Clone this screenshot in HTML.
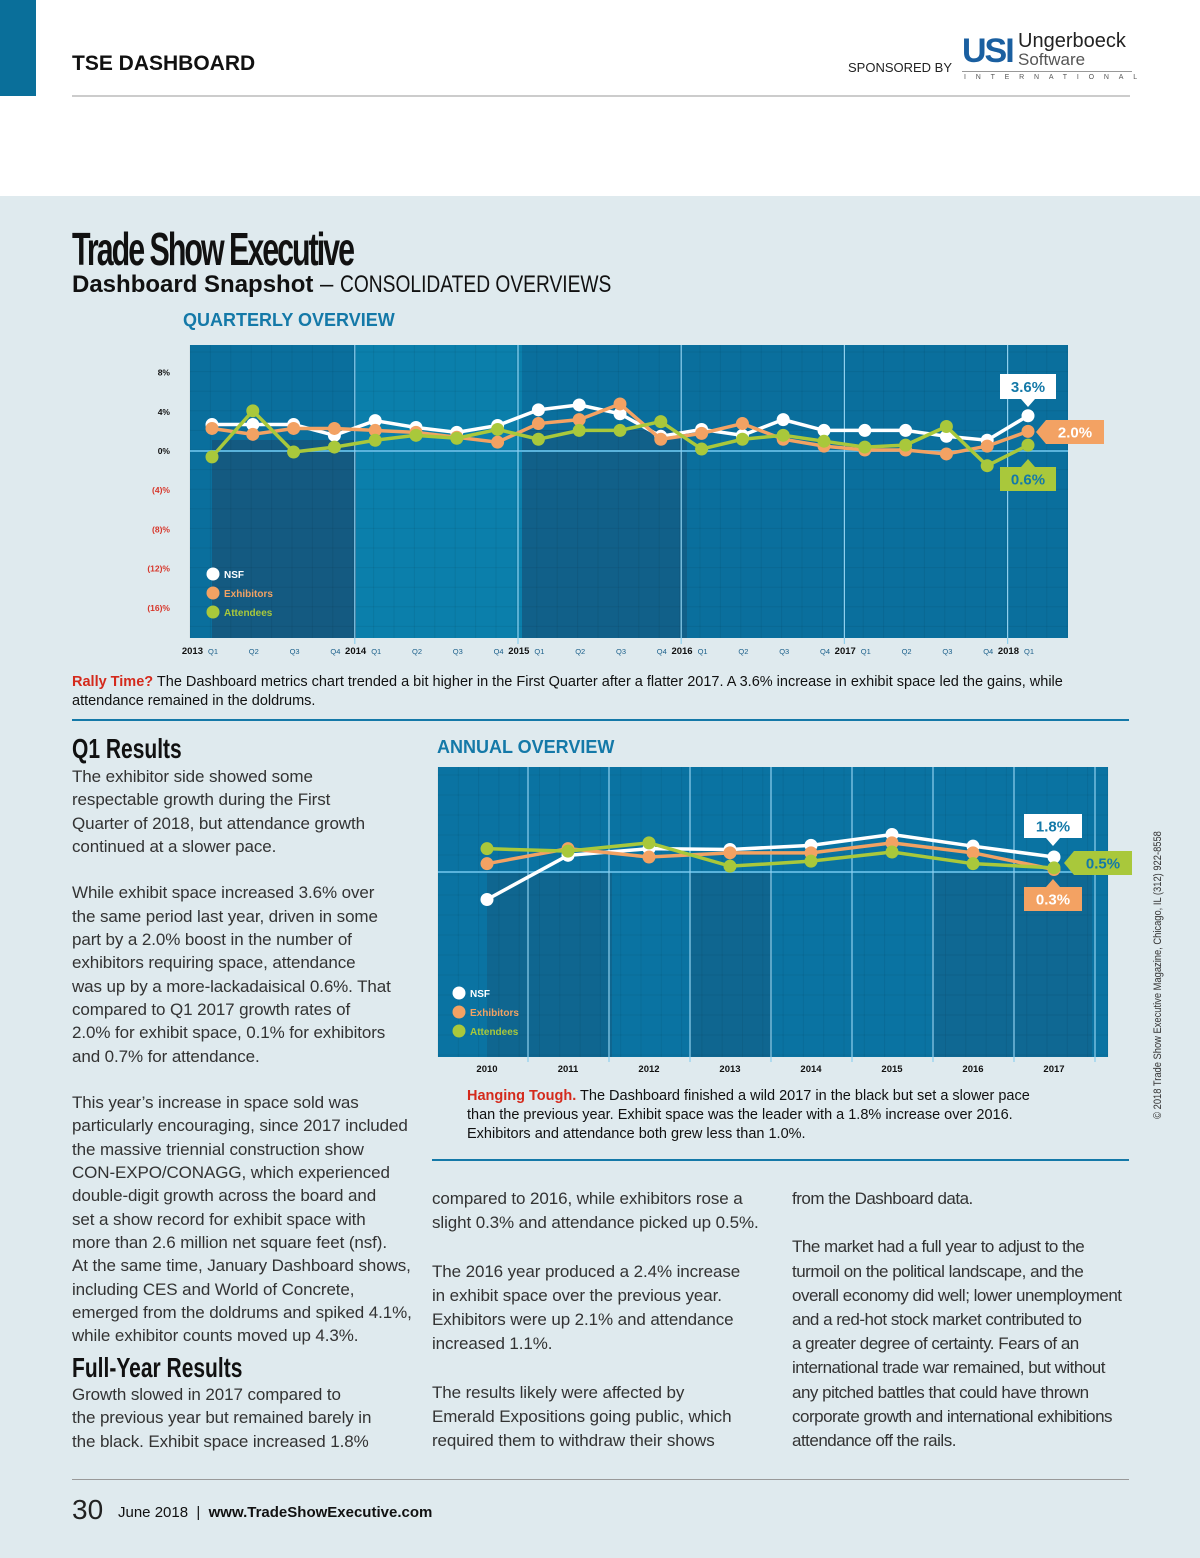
<!DOCTYPE html>
<html><head><meta charset="utf-8">
<style>
body{margin:0;width:1200px;height:1558px;position:relative;background:#fff;font-family:"Liberation Sans",sans-serif;overflow:hidden}
.abs{position:absolute}
.body{font-size:17px;line-height:23.3px;color:#333;font-weight:300;letter-spacing:-0.1px}
.h{font-family:"Liberation Sans Narrow","Liberation Sans",sans-serif;font-weight:bold;color:#111;transform-origin:left top}
</style></head><body>
<div class="abs" style="left:0;top:0;width:36px;height:96px;background:#0a6f9a"></div>
<div class="abs" style="left:72px;top:52px;font-size:21px;font-weight:bold;color:#111">TSE DASHBOARD</div>
<div class="abs" style="left:848px;top:60px;font-size:13px;color:#222">SPONSORED BY</div>
<div class="abs" style="left:962px;top:32px;width:170px;height:52px">
  <div class="abs" style="left:0;top:2px;font-size:34px;font-weight:bold;color:#1a5fa0;letter-spacing:-2px;line-height:34px">USI</div>
  <div class="abs" style="left:56px;top:-1px;font-size:20px;color:#222;line-height:20px">Ungerboeck</div>
  <div class="abs" style="left:56px;top:18px;font-size:17px;color:#555;line-height:20px">Software</div>
  <div class="abs" style="left:0;top:39px;width:170px;border-top:1px solid #999"></div>
  <div class="abs" style="left:2px;top:42px;font-size:7px;color:#555;letter-spacing:9.8px">INTERNATIONAL</div>
</div>
<div class="abs" style="left:72px;top:95px;width:1058px;height:2px;background:#ccc"></div>
<div class="abs" style="left:0;top:196px;width:1200px;height:1362px;background:#dfeaee"></div>

<div class="abs h" style="left:72px;top:222px;font-size:46px;letter-spacing:-3px;transform:scaleX(0.66);white-space:nowrap">Trade Show Executive</div>
<div class="abs" style="left:72px;top:271px;font-size:24px;font-weight:bold;color:#111;white-space:nowrap">Dashboard Snapshot <span style="font-weight:normal">–</span> <span style="display:inline-block;font-weight:normal;transform:scaleX(0.8);transform-origin:left">CONSOLIDATED OVERVIEWS</span></div>
<div class="abs" style="left:183px;top:310px;font-size:18px;font-weight:bold;color:#1479a8">QUARTERLY OVERVIEW</div>

<svg id="charts" class="abs" style="left:0;top:0" width="1200" height="1558"></svg>

<div class="abs" style="left:72px;top:673px;font-size:14.5px;line-height:19px;color:#111;width:1052px"><b style="color:#d42a1c">Rally Time?</b> The Dashboard metrics chart trended a bit higher in the First Quarter after a flatter 2017. A 3.6% increase in exhibit space led the gains, while<br>attendance remained in the doldrums.</div>
<div class="abs" style="left:72px;top:719px;width:1057px;height:2px;background:#1479a8"></div>

<div class="abs h" style="left:72px;top:733px;font-size:28px;transform:scaleX(0.75);white-space:nowrap">Q1 Results</div>
<div class="abs body" style="left:72px;top:765px;white-space:nowrap">The exhibitor side showed some<br>respectable growth during the First<br>Quarter of 2018, but attendance growth<br>continued at a slower pace.<br><br>While exhibit space increased 3.6% over<br>the same period last year, driven in some<br>part by a 2.0% boost in the number of<br>exhibitors requiring space, attendance<br>was up by a more-lackadaisical 0.6%. That<br>compared to Q1 2017 growth rates of<br>2.0% for exhibit space, 0.1% for exhibitors<br>and 0.7% for attendance.<br><br>This year’s increase in space sold was<br>particularly encouraging, since 2017 included<br>the massive triennial construction show<br>CON-EXPO/CONAGG, which experienced<br>double-digit growth across the board and<br>set a show record for exhibit space with<br>more than 2.6 million net square feet (nsf).<br>At the same time, January Dashboard shows,<br>including CES and World of Concrete,<br>emerged from the doldrums and spiked 4.1%,<br>while exhibitor counts moved up 4.3%.</div>
<div class="abs h" style="left:72px;top:1352px;font-size:28px;transform:scaleX(0.75);white-space:nowrap">Full-Year Results</div>
<div class="abs body" style="left:72px;top:1383px;white-space:nowrap">Growth slowed in 2017 compared to<br>the previous year but remained barely in<br>the black. Exhibit space increased 1.8%</div>

<div class="abs" style="left:437px;top:737px;font-size:18px;font-weight:bold;color:#1479a8">ANNUAL OVERVIEW</div>
<div class="abs" style="left:467px;top:1087px;font-size:14.5px;line-height:19px;color:#111;white-space:nowrap"><b style="color:#d42a1c">Hanging Tough.</b> The Dashboard finished a wild 2017 in the black but set a slower pace<br>than the previous year. Exhibit space was the leader with a 1.8% increase over 2016.<br>Exhibitors and attendance both grew less than 1.0%.</div>
<div class="abs" style="left:432px;top:1159px;width:697px;height:2px;background:#1479a8"></div>

<div class="abs body" style="left:432px;top:1187px;line-height:24.2px;white-space:nowrap">compared to 2016, while exhibitors rose a<br>slight 0.3% and attendance picked up 0.5%.<br><br>The 2016 year produced a 2.4% increase<br>in exhibit space over the previous year.<br>Exhibitors were up 2.1% and attendance<br>increased 1.1%.<br><br>The results likely were affected by<br>Emerald Expositions going public, which<br>required them to withdraw their shows</div>
<div class="abs body" style="left:792px;top:1187px;line-height:24.2px;white-space:nowrap;letter-spacing:-0.5px">from the Dashboard data.<br><br>The market had a full year to adjust to the<br>turmoil on the political landscape, and the<br>overall economy did well; lower unemployment<br>and a red-hot stock market contributed to<br>a greater degree of certainty. Fears of an<br>international trade war remained, but without<br>any pitched battles that could have thrown<br>corporate growth and international exhibitions<br>attendance off the rails.</div>

<div class="abs" style="left:1158px;top:975px;font-size:11px;color:#333;white-space:nowrap;transform:translate(-50%,-50%) rotate(-90deg) scaleX(0.85);transform-origin:center">© 2018 Trade Show Executive Magazine, Chicago, IL (312) 922-8558</div>

<div class="abs" style="left:72px;top:1479px;width:1057px;height:1px;background:#999"></div>
<div class="abs" style="left:72px;top:1494px;font-size:28px;color:#222;font-weight:300">30</div>
<div class="abs" style="left:118px;top:1504px;font-size:15px;color:#111">June 2018 &nbsp;| &nbsp;<b>www.TradeShowExecutive.com</b></div>

<script>
const qLabels=["Q1","Q2","Q3","Q4","Q1","Q2","Q3","Q4","Q1","Q2","Q3","Q4","Q1","Q2","Q3","Q4","Q1","Q2","Q3","Q4","Q1"];
const qYears=["2013","2014","2015","2016","2017","2018"];
const qNSF=[2.7,2.7,2.7,1.6,3.1,2.4,1.9,2.6,4.2,4.7,3.8,1.5,2.2,1.6,3.2,2.1,2.1,2.1,1.5,1.1,3.6];
const qExh=[2.3,1.7,2.3,2.3,2.1,1.9,1.4,0.9,2.8,3.2,4.8,1.2,1.8,2.8,1.2,0.5,0.1,0.1,-0.3,0.5,2.0];
const qAtt=[-0.6,4.1,-0.1,0.4,1.1,1.6,1.3,2.2,1.2,2.1,2.1,3.0,0.2,1.2,1.6,1.0,0.4,0.6,2.5,-1.5,0.6];
const qTicks=[8,4,0,-4,-8,-12,-16];
const qTickLabels=["8%","4%","0%","(4)%","(8)%","(12)%","(16)%"];
const aYears=["2010","2011","2012","2013","2014","2015","2016","2017"];
const aNSF=[-3.3,2.0,2.8,2.7,3.2,4.5,3.1,1.8];
const aExh=[1.0,2.8,1.8,2.3,2.3,3.5,2.3,0.3];
const aAtt=[2.8,2.5,3.5,0.7,1.3,2.4,1.0,0.5];

const NS="http://www.w3.org/2000/svg";
const svg=document.getElementById('charts');
function el(tag,attrs,parent){const e=document.createElementNS(NS,tag);for(const k in attrs)e.setAttribute(k,attrs[k]);(parent||svg).appendChild(e);return e;}
const C={nsf:"#ffffff",exh:"#f3a263",att:"#a9c83b"};

// ---------- Quarterly ----------
const qx=i=>212+i*40.8, qy=v=>451-v*9.8;
const qg=el('g',{});


let r=el('rect',{x:190,y:345,width:878,height:293,fill:'#0a6f9d'},qg);


el('rect',{x:356,y:345,width:166,height:293,fill:'#0b7fab'},qg);
el('rect',{x:212,y:440,width:144,height:198,fill:'#17557a',opacity:0.8},qg);
el('rect',{x:522,y:430,width:165,height:208,fill:'#135d84',opacity:0.8},qg);
for(let gx=190;gx<1068;gx+=20.4)el('line',{x1:gx,y1:345,x2:gx,y2:638,stroke:'#000',"stroke-opacity":0.06},qg);
for(let gy=352;gy<638;gy+=19.6)el('line',{x1:190,y1:gy,x2:1068,y2:gy,stroke:'#000',"stroke-opacity":0.06},qg);
el('line',{x1:190,y1:qy(0),x2:1068,y2:qy(0),stroke:'#5ab3dc','stroke-width':2},qg);
[0,4,8,12,16,20].forEach((i,k)=>{if(k>0)el('line',{x1:qx(i)-20.4,y1:345,x2:qx(i)-20.4,y2:644,stroke:'#8fd0ee','stroke-width':1.2},qg);});
qTicks.forEach((t,k)=>{const tx=el('text',{x:170,y:qy(t)+3,'text-anchor':'end','font-size':8.5,'font-weight':'bold',fill:t<0?'#d7362a':'#111'},qg);tx.textContent=qTickLabels[k];
 });
qLabels.forEach((l,i)=>{const t=el('text',{x:qx(i)+1,y:654,'text-anchor':'middle','font-size':7.5,fill:'#1a5f8a'},qg);t.textContent=l;
 });
qYears.forEach((y,k)=>{const i=k*4;const t=el('text',{x:qx(i)-9,y:654,'text-anchor':'end','font-size':9.5,'font-weight':'bold',fill:'#111'},qg);t.textContent=y;
 });
function series(g,vals,xf,yf,col,name,r){
 const pts=vals.map((v,i)=>xf(i)+','+yf(v)).join(' ');
 const pl=el('polyline',{points:pts,fill:'none',stroke:col,'stroke-width':3.5},g);
 
 vals.forEach((v,i)=>{const c=el('circle',{cx:xf(i),cy:yf(v),r:r,fill:col},g);
  });
}
series(qg,qNSF,qx,qy,C.nsf,'nsf',6.5);
series(qg,qExh,qx,qy,C.exh,'exhibitors',6.5);
series(qg,qAtt,qx,qy,C.att,'attendees',6.5);
function legend(g,x,y){[['NSF',C.nsf],['Exhibitors',C.exh],['Attendees',C.att]].forEach((d,k)=>{
 const c=el('circle',{cx:x,cy:y+k*19,r:6.5,fill:d[1]},g);
 const t=el('text',{x:x+11,y:y+k*19+4,'font-size':10,'font-weight':'bold',fill:d[1]},g);t.textContent=d[0];
 });}
legend(qg,213,574);
function callout(g,x,y,w,h,bg,fg,txt,ptr,name){
 const gg=el('g',{},g);
 el('rect',{x:x,y:y,width:w,height:h,fill:bg},gg);
 if(ptr=='down')el('polygon',{points:`${x+w/2-7},${y+h} ${x+w/2+7},${y+h} ${x+w/2},${y+h+8}`,fill:bg},gg);
 if(ptr=='up')el('polygon',{points:`${x+w/2-7},${y} ${x+w/2+7},${y} ${x+w/2},${y-8}`,fill:bg},gg);
 if(ptr=='left')el('polygon',{points:`${x},${y} ${x},${y+h} ${x-10},${y+h/2}`,fill:bg},gg);
 const t=el('text',{x:x+w/2,y:y+h/2+5.5,'text-anchor':'middle','font-size':15,'font-weight':'bold',fill:fg},gg);t.textContent=txt;
}
callout(qg,1000,374,56,25,'#fff','#1479a8',qNSF[20].toFixed(1)+'%','down','nsf-callout');
callout(qg,1046,420,58,24,C.exh,'#fff',qExh[20].toFixed(1)+'%','left','exhibitors-callout');
callout(qg,1000,467,56,24,C.att,'#1479a8',qAtt[20].toFixed(1)+'%','up','attendees-callout');

// ---------- Annual ----------
const ax=i=>487+i*81, ay=v=>872-v*8.33;
const ag=el('g',{});


r=el('rect',{x:438,y:767,width:670,height:290,fill:'#0a73a2'},ag);


el('rect',{x:487,y:872,width:125,height:185,fill:'#135d84',opacity:0.6},ag);
el('rect',{x:690,y:872,width:82,height:185,fill:'#135d84',opacity:0.6},ag);
el('rect',{x:932,y:872,width:160,height:185,fill:'#135d84',opacity:0.5},ag);
for(let gx=438;gx<1108;gx+=20.3)el('line',{x1:gx,y1:767,x2:gx,y2:1057,stroke:'#000',"stroke-opacity":0.06},ag);
for(let gy=775;gy<1057;gy+=20)el('line',{x1:438,y1:gy,x2:1108,y2:gy,stroke:'#000',"stroke-opacity":0.06},ag);
el('line',{x1:438,y1:ay(0),x2:1108,y2:ay(0),stroke:'#5ab3dc','stroke-width':2},ag);
aYears.forEach((y,i)=>{el('line',{x1:ax(i)+41,y1:767,x2:ax(i)+41,y2:1062,stroke:'#8fd0ee','stroke-width':1.2},ag);
 const t=el('text',{x:ax(i),y:1072,'text-anchor':'middle','font-size':9.5,'font-weight':'bold',fill:'#111'},ag);t.textContent=y;
 });
series(ag,aNSF,ax,ay,C.nsf,'nsf',6.5);
series(ag,aExh,ax,ay,C.exh,'exhibitors',6.5);
series(ag,aAtt,ax,ay,C.att,'attendees',6.5);
legend(ag,459,993);
callout(ag,1024,814,58,24,'#fff','#1479a8',aNSF[7].toFixed(1)+'%','down','nsf-callout');
callout(ag,1074,851,58,24,C.att,'#1479a8',aAtt[7].toFixed(1)+'%','left','attendees-callout');
callout(ag,1024,887,58,24,C.exh,'#fff',aExh[7].toFixed(1)+'%','up','exhibitors-callout');
</script>
</body></html>
